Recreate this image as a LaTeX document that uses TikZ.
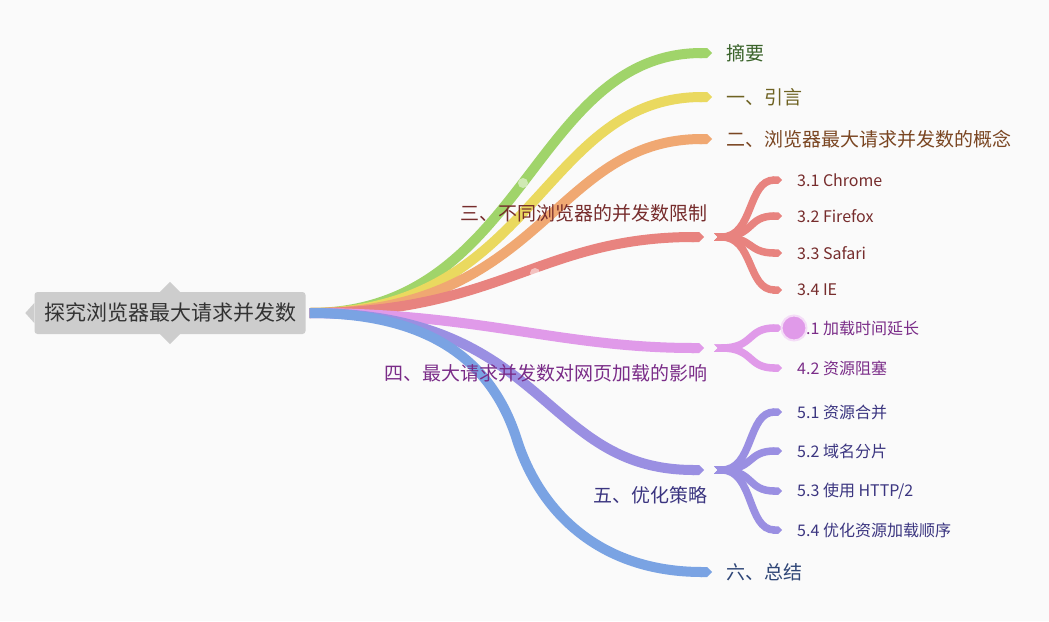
\documentclass[tikz,border=0pt]{standalone}
\usepackage{fontspec}
\newfontfamily\cjk{Noto Sans CJK SC}
\usepackage{tikz}
\usetikzlibrary{arrows.meta, positioning}
\definecolor{bgpaper}{HTML}{FAFAFA}
\definecolor{rootgray}{HTML}{CDCDCD}
\definecolor{cgreen}{HTML}{A0D46A}
\definecolor{cyellow}{HTML}{EAD95F}
\definecolor{corange}{HTML}{F0A872}
\definecolor{cred}{HTML}{E8837F}
\definecolor{cviolet}{HTML}{E09AE9}
\definecolor{cpurple}{HTML}{9A8FE2}
\definecolor{cblue}{HTML}{7AA3E3}
% text colours
\definecolor{tgreen}{HTML}{3A632A}
\definecolor{tyellow}{HTML}{6E6222}
\definecolor{torange}{HTML}{7A4622}
\definecolor{tred}{HTML}{762C2C}
\definecolor{tviolet}{HTML}{7A2C88}
\definecolor{tpurple}{HTML}{3B3580}
\definecolor{tblue}{HTML}{2F4677}

\begin{document}
\begin{tikzpicture}[
        x=1pt, y=-1pt,
        rootbox/.style={rectangle, fill=rootgray, rounded corners=3pt, minimum width=271pt, minimum height=42pt, inner sep=0pt, text=black!80, font=\cjk\fontsize{21}{23}\selectfont},
        branch/.style={line width=10pt, -{Triangle Cap}},
        twig/.style={line width=7.5pt, {Triangle Cap[reversed]}-{Triangle Cap}},
        mainlabel/.style={inner sep=0pt, font=\cjk\fontsize{19}{21}\selectfont},
        sublabel/.style={anchor=west, inner sep=0pt, font=\cjk\fontsize{16}{18}\selectfont}
    ]
    \useasboundingbox[fill=bgpaper] (0,0) rectangle (1049,621);

    % root
    \node[rootbox] (root) at (170,313) {探究浏览器最大请求并发数};
    \fill[rootgray] ([xshift=-10pt]root.north) -- ++(10,-10) -- ++(10,10) -- cycle;
    \fill[rootgray] ([xshift=-10pt]root.south) -- ++(10,10) -- ++(10,-10) -- cycle;
    \fill[rootgray] ([yshift=10pt]root.west) -- ++(-9,10) -- ++(9,10) -- cycle;
    \coordinate (hub) at ([xshift=4pt]root.east);

    % tips of the main branches
    \coordinate (t0) at (712,53);
    \coordinate (t1) at (712,97);
    \coordinate (t2) at (712,139);
    \coordinate (t3) at (704,237);
    \coordinate (t4) at (704,348);
    \coordinate (t5) at (704,470);
    \coordinate (t6) at (712,572);

    \draw[branch, cgreen]  (hub) .. controls +(215,0) and +(-180,0) .. (t0);
    \draw[branch, cyellow] (hub) .. controls +(225,0) and +(-170,0) .. (t1);
    \draw[branch, corange] (hub) .. controls +(235,0) and +(-160,0) .. (t2);
    \draw[branch, cred]    (hub) .. controls +(190,0) and +(-164,0) .. (t3);
    \draw[branch, cviolet] (hub) .. controls +(170,0) and +(-144,0) .. (t4);
    \draw[branch, cpurple] (hub) .. controls +(240,0) and +(-164,0) .. (t5);
    \draw[branch, cblue]   (hub) .. controls (440,313) and (495,370) .. (517,440)
                                 .. controls (540,512) and (600,572) .. (t6);
    \fill[white, opacity=.5] (523,183) circle (5);
    \fill[white, opacity=.5] (535,273) circle (5);

    % twigs
    \coordinate (f3) at (714,237);
    \coordinate (f4) at (714,348);
    \coordinate (f5) at (714,470);
    \foreach \name/\yy in {c31/180, c32/216, c33/253, c34/290}
        \draw[twig, cred] (f3) .. controls +(40,0) and +(-35,0) .. (782,\yy) coordinate (\name);
    \foreach \name/\yy in {c41/328, c42/368}
        \draw[twig, cviolet] (f4) .. controls +(40,0) and +(-35,0) .. (782,\yy) coordinate (\name);
    \foreach \name/\yy in {c51/412, c52/451, c53/491, c54/530}
        \draw[twig, cpurple] (f5) .. controls +(40,0) and +(-35,0) .. (782,\yy) coordinate (\name);

    % labels
    \node[mainlabel, anchor=west, text=tgreen, right=14pt of t0] (l0) {摘要};
    \node[mainlabel, anchor=west, text=tyellow, right=14pt of t1] (l1) {一、引言};
    \node[mainlabel, anchor=west, text=torange, right=14pt of t2] (l2) {二、浏览器最大请求并发数的概念};
    \node[mainlabel, anchor=east, text=tred] (l3) at (708,213) {三、不同浏览器的并发数限制};
    \node[mainlabel, anchor=east, text=tviolet] (l4) at (708,373) {四、最大请求并发数对网页加载的影响};
    \node[mainlabel, anchor=east, text=tpurple] (l5) at (708,495) {五、优化策略};
    \node[mainlabel, anchor=west, text=tblue, right=14pt of t6] (l6) {六、总结};

    \node[sublabel, text=tred] (s31) at (797,180) {3.1 Chrome};
    \node[sublabel, text=tred] (s32) at (797,216) {3.2 Firefox};
    \node[sublabel, text=tred] (s33) at (797,253) {3.3 Safari};
    \node[sublabel, text=tred] (s34) at (797,290) {3.4 IE};
    \node[sublabel, text=tviolet] (s41) at (797,328) {4.1 加载时间延长};
    \node[sublabel, text=tviolet] (s42) at (797,368) {4.2 资源阻塞};
    \node[sublabel, text=tpurple] (s51) at (797,412) {5.1 资源合并};
    \node[sublabel, text=tpurple] (s52) at (797,451) {5.2 域名分片};
    \node[sublabel, text=tpurple] (s53) at (797,491) {5.3 使用 HTTP/2};
    \node[sublabel, text=tpurple] (s54) at (797,530) {5.4 优化资源加载顺序};

    % highlight on 4.1
    \fill[cviolet, draw=cviolet!35, line width=2pt] (794,328) circle (12.5);
\end{tikzpicture}
\end{document}
